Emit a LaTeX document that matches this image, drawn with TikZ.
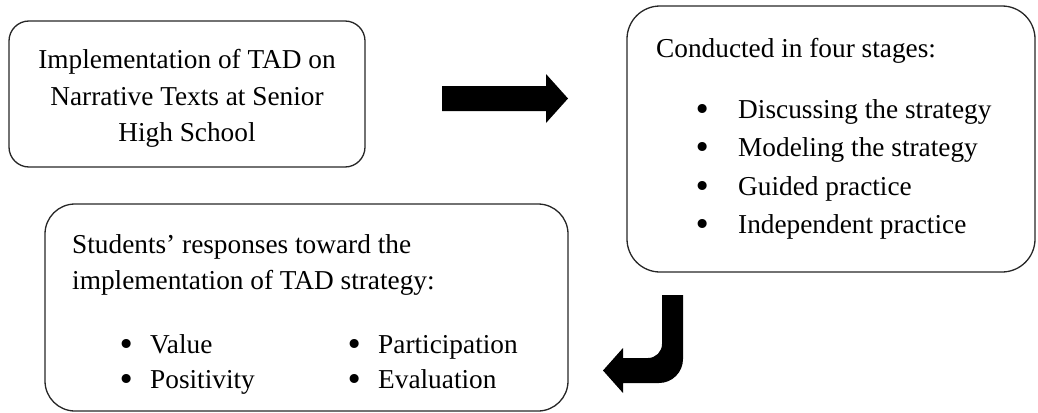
\documentclass[tikz,border=0pt]{standalone}
\usepackage{fontspec}
\setmainfont{Liberation Serif}
\newfontfamily\bulfont{DejaVu Sans}
\begin{document}
\begin{tikzpicture}[x=1pt,y=-1pt,
  box/.style={draw=black!85, line width=1.3pt, rounded corners=#1, inner sep=0pt},
  txt/.style={inner sep=0pt, font=\fontsize{27.3}{36}\selectfont},
  lt/.style={txt, anchor=base west},
  ct/.style={txt, anchor=base},
  bul/.style={inner sep=0pt, anchor=base, font=\bulfont\fontsize{31}{33}\selectfont, yshift=-2pt},
  blockarrow/.style={fill=black}]
\useasboundingbox (0,0) rectangle (1038,412);
% boxes
\node[box=20pt, minimum width=356pt, minimum height=146pt] (b1) at (187,94) {};
\node[box=33pt, minimum width=408pt, minimum height=266pt] (b2) at (831,139) {};
\node[box=30pt, minimum width=523pt, minimum height=207pt] (b3) at (306.5,307.5) {};
% box 1 text
\node[ct] (t11) at (187,68) {Implementation of TAD on};
\node[ct] (t12) at (187,105) {Narrative Texts at Senior};
\node[ct] (t13) at (187,141) {High School};
% box 2 text
\node[lt] (t20) at (656,57) {Conducted in four stages:};
\node[bul] (p21) at (703,118) {•};
\node[lt] (t21) at (738,118) {Discussing the strategy};
\node[bul] (p22) at (703,156.5) {•};
\node[lt] (t22) at (738,156.5) {Modeling the strategy};
\node[bul] (p23) at (703,195) {•};
\node[lt] (t23) at (738,195) {Guided practice};
\node[bul] (p24) at (703,233) {•};
\node[lt] (t24) at (738,233) {Independent practice};
% box 3 text
\node[lt] (t30) at (72,253) {Students’ responses toward the};
\node[lt] (t31) at (72,289) {implementation of TAD strategy:};
\node[bul] (p31) at (127,353) {•};
\node[lt] (t32) at (150,353) {Value};
\node[bul] (p32) at (127,388) {•};
\node[lt] (t33) at (150,388) {Positivity};
\node[bul] (p33) at (355,353) {•};
\node[lt] (t34) at (378,353) {Participation};
\node[bul] (p34) at (355,388) {•};
\node[lt] (t35) at (378,388) {Evaluation};
% block arrows
\fill[blockarrow] (442,86) -- (546,86) -- (546,74) -- (568,98.5) -- (546,123) -- (546,111) -- (442,111) -- cycle;
\fill[blockarrow] (662,295) -- (683,295) -- (683,359) arc[start angle=0,end angle=90,radius=24]
  -- (623,383) -- (623,393) -- (603,370.5) -- (623,348) -- (623,358) -- (648,358)
  arc[start angle=90,end angle=0,radius=14] -- cycle;
\end{tikzpicture}
\end{document}
